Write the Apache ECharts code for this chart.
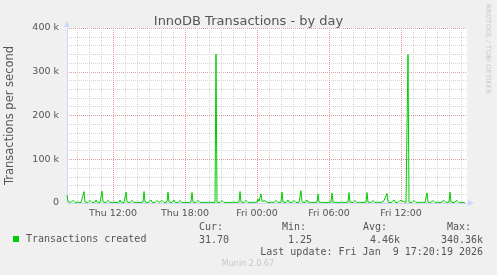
<!DOCTYPE html>
<html><head><meta charset="utf-8">
<script src="https://cdn.jsdelivr.net/npm/echarts@6/dist/echarts.min.js"></script>
<style>html,body{margin:0;padding:0;background:#f0f0f0;}#c{width:497px;height:275px;}</style>
</head><body><div id="c"></div>
<script>
const chartTitle = 'InnoDB Transactions - by day';
const yAxisTitle = 'Transactions per second';
const seriesName = 'Transactions created';
const startHour = 8 + 10 / 60;   // Thu 08:10 (hours from Thu 00:00)
const endHour = 41.5;            // Fri 17:30
const stepHours = 5 / 60;        // 5-minute samples
// transactions per second, in thousands
const values = [
  18, 3, 1.2, 0.9, 1.4, 2.1, 6, 1.8, 1.1, 0.8, 1.3, 1.9,
  5, 1.6, 1.0, 1.2, 2.4, 26, 2.2, 1.1, 0.9, 1.3, 1.8, 6,
  1.7, 1.2, 0.8, 1.0, 1.9, 7, 2.0, 1.3, 0.9, 1.1, 2.3, 27,
  2.5, 1.4, 1.0, 0.9, 1.6, 6, 1.8, 1.2, 0.8, 1.0, 1.7, 5,
  1.5, 1.1, 0.9, 1.2, 2.0, 7, 1.9, 1.3, 1.0, 0.9, 2.2, 25,
  2.4, 1.3, 1.0, 1.1, 1.8, 6, 1.7, 1.2, 0.8, 1.0, 1.6, 5,
  1.6, 1.1, 0.9, 1.3, 2.1, 26, 2.3, 1.4, 1.0, 0.9, 1.2, 1.8,
  7, 1.9, 1.2, 0.9, 1.1, 1.7, 6, 1.8, 1.3, 1.0, 1.9, 6,
  1.6, 1.1, 0.8, 1.2, 2.0, 25, 2.2, 1.3, 1.0, 0.9, 1.8, 7,
  1.9, 1.2, 0.9, 1.0, 1.7, 6, 1.8, 1.1, 0.8, 1.2, 1.6, 5,
  1.5, 1.0, 0.9, 1.3, 2.2, 24, 2.1, 1.2, 0.9, 1.1, 1.7, 6,
  1.8, 1.3, 1.0, 0.8, 1.6, 5, 1.7, 1.1, 0.9, 1.2, 1.9, 6,
  1.7, 1.2, 0.9, 1.0, 1.4, 340.36, 1.6, 1.1, 0.9, 1.2, 1.8, 6,
  1.8, 1.2, 0.9, 1.1, 1.6, 5, 1.7, 1.2, 0.8, 1.0, 1.9, 6,
  1.9, 1.3, 1.0, 0.9, 2.0, 26, 2.3, 1.3, 1.0, 1.1, 1.7, 6,
  1.8, 1.2, 0.9, 1.0, 1.6, 6, 1.9, 1.3, 1.0, 1.2, 2.4, 9,
  3.5, 4.2, 21, 3.8, 8, 2.6, 5, 1.8, 1.1, 0.9, 1.4, 5,
  1.7, 1.1, 0.9, 1.2, 1.8, 6, 1.9, 1.2, 0.9, 1.0, 2.1, 25,
  2.3, 1.3, 1.0, 0.9, 1.7, 7, 1.9, 1.2, 0.9, 1.1, 1.6, 6,
  1.8, 1.2, 0.9, 1.0, 1.5, 2.4, 28, 2.5, 1.4, 1.0, 0.9, 1.8,
  7, 1.9, 1.2, 1.0, 1.7, 6, 1.8, 1.1, 0.9, 1.2, 2.0, 21,
  2.1, 1.3, 1.0, 1.6, 6, 1.8, 1.2, 0.9, 1.1, 1.4, 1.2, 1.0,
  2.2, 23, 2.0, 1.2, 0.9, 1.7, 6, 1.8, 1.1, 0.9, 1.3, 1.9,
  6, 1.8, 1.2, 0.9, 1.1, 2.3, 24, 2.2, 1.3, 1.0, 0.9, 1.7,
  6, 1.8, 1.1, 0.9, 1.2, 1.7, 5, 1.6, 1.1, 0.9, 1.3, 2.1,
  24, 2.2, 1.3, 1.0, 0.9, 1.8, 6, 1.9, 1.2, 0.9, 1.1, 1.7,
  6, 1.8, 1.2, 1.6, 2.2, 5, 1.9, 2.3, 22, 2.1, 1.3, 1.0,
  0.9, 1.2, 1.8, 7, 2.0, 1.3, 1.0, 1.1, 1.7, 6, 2.2, 1.8,
  4, 1.6, 1.1, 0.9, 1.4, 339.2, 1.5, 1.1, 0.9, 1.2, 1.8, 6,
  1.8, 1.2, 0.9, 1.0, 1.6, 2.0, 5, 1.7, 1.1, 0.9, 1.3, 2.2,
  23, 2.1, 1.2, 0.9, 1.1, 1.7, 6, 1.8, 1.2, 0.9, 1.1, 1.6,
  5, 1.7, 1.1, 0.9, 1.6, 6, 1.9, 1.2, 0.9, 1.0, 2.2, 25,
  2.3, 1.3, 1.0, 0.9, 1.1, 1.7, 6, 1.8, 1.1, 0.9, 1.2, 1.7,
  5, 1.4, 0.0317
];
const labelHours = [12, 18, 24, 30, 36];
const labelTexts = ['Thu 12:00', 'Thu 18:00', 'Fri 00:00', 'Fri 06:00', 'Fri 12:00'];
const hourGrid = [9,10,11,12,13,14,15,16,17,18,19,20,21,22,23,24,25,26,27,28,29,30,31,32,33,34,35,36,37,38,39,40,41];
const yTicks = [0, 100, 200, 300, 400];
const yTickLabels = ['0', '100 k', '200 k', '300 k', '400 k'];
const statHeads = ['Cur:', 'Min:', 'Avg:', 'Max:'];
const statValues = ['31.70', '1.25', '4.46k', '340.36k'];
const lastUpdate = 'Last update: Fri Jan  9 17:20:19 2026';
const footer = 'Munin 2.0.67';
const watermark = 'RRDTOOL / TOBI OETIKER';

const seriesData = values.map((v, i) => [startHour + i * stepHours, v]);

const GRID_MINOR = '#d4d4d4';
const GRID_MAJOR = '#e09c9c';
const AXIS_COL = '#cfd6f8';
const TXT = '#555';

const headX = [199, 282, 363, 447];
const valX = [199, 288, 370, 441];
const graphics = [];
statHeads.forEach((t, i) => graphics.push({type: 'text', x: headX[i], y: 227, style: {text: t, font: '10px "DejaVu Sans Mono"', fill: TXT, verticalAlign: 'middle'}}));
statValues.forEach((t, i) => graphics.push({type: 'text', x: valX[i], y: 240, style: {text: t, font: '10px "DejaVu Sans Mono"', fill: TXT, verticalAlign: 'middle'}}));
graphics.push({type: 'text', x: 483, y: 252, style: {text: lastUpdate, font: '10px "DejaVu Sans Mono"', fill: TXT, align: 'right', verticalAlign: 'middle'}});
graphics.push({type: 'text', x: 248, y: 264, style: {text: footer, font: '8px "DejaVu Sans"', fill: '#c8c8c8', align: 'center', verticalAlign: 'middle'}});
graphics.push({type: 'text', x: 488, y: 4, rotation: -Math.PI / 2, style: {text: watermark, font: '7px "DejaVu Sans"', fill: '#c8c8c8', align: 'left', verticalAlign: 'middle'}});

const chart = echarts.init(document.getElementById('c'), null, {renderer: 'canvas'});
chart.setOption({
  animation: false,
  backgroundColor: '#f0f0f0',
  textStyle: {fontFamily: 'DejaVu Sans'},
  title: {text: chartTitle, left: 'center', top: 10, textStyle: {fontFamily: 'DejaVu Sans', fontSize: 13, fontWeight: 'normal', color: TXT}},
  grid: {left: 67, top: 28, width: 400, height: 175, containLabel: false, outerBoundsMode: 'none', show: true, backgroundColor: '#ffffff', borderWidth: 0},
  legend: {left: 13, top: 234, padding: 0, itemWidth: 6, itemHeight: 6, icon: 'rect', data: [seriesName],
    textStyle: {fontFamily: 'DejaVu Sans Mono', fontSize: 10, color: TXT, padding: [0, 0, 0, 2]}},
  xAxis: {
    type: 'value', min: startHour, max: endHour,
    axisLine: {show: true, lineStyle: {color: AXIS_COL, width: 1}, symbol: ['none', 'triangle'], symbolSize: [6, 6], symbolOffset: [0, 4]},
    axisTick: {show: false, customValues: hourGrid},
    axisLabel: {customValues: labelHours, margin: 6, fontFamily: 'DejaVu Sans', fontSize: 9.5, color: TXT,
      formatter: v => labelTexts[labelHours.indexOf(Math.round(v))] || ''},
    splitLine: {show: true, lineStyle: {type: 'dotted', width: 1, color: [GRID_MINOR, GRID_MINOR, GRID_MINOR, GRID_MAJOR, GRID_MINOR, GRID_MINOR]}}
  },
  yAxis: {
    type: 'value', min: 0, max: 400, interval: 100,
    name: yAxisTitle, nameLocation: 'middle', nameRotate: 90, nameGap: 51,
    nameTextStyle: {fontFamily: 'DejaVu Sans', fontSize: 11.5, color: TXT},
    axisLine: {show: true, lineStyle: {color: AXIS_COL, width: 1}, symbol: ['none', 'triangle'], symbolSize: [6, 6], symbolOffset: [0, 4]},
    axisTick: {show: false},
    axisLabel: {margin: 8, fontFamily: 'DejaVu Sans', fontSize: 9.5, color: TXT,
      formatter: v => yTickLabels[yTicks.indexOf(v)]},
    splitLine: {show: true, lineStyle: {type: 'dotted', width: 1, color: GRID_MAJOR}},
    minorTick: {show: false, splitNumber: 5},
    minorSplitLine: {show: true, lineStyle: {type: 'dotted', width: 1, color: GRID_MINOR}}
  },
  graphic: graphics,
  series: [{
    name: seriesName, type: 'line', data: seriesData, showSymbol: false, symbol: 'none',
    lineStyle: {width: 1, color: '#00cc00'}, itemStyle: {color: '#00cc00'}, z: 3
  }]
});
</script></body></html>
